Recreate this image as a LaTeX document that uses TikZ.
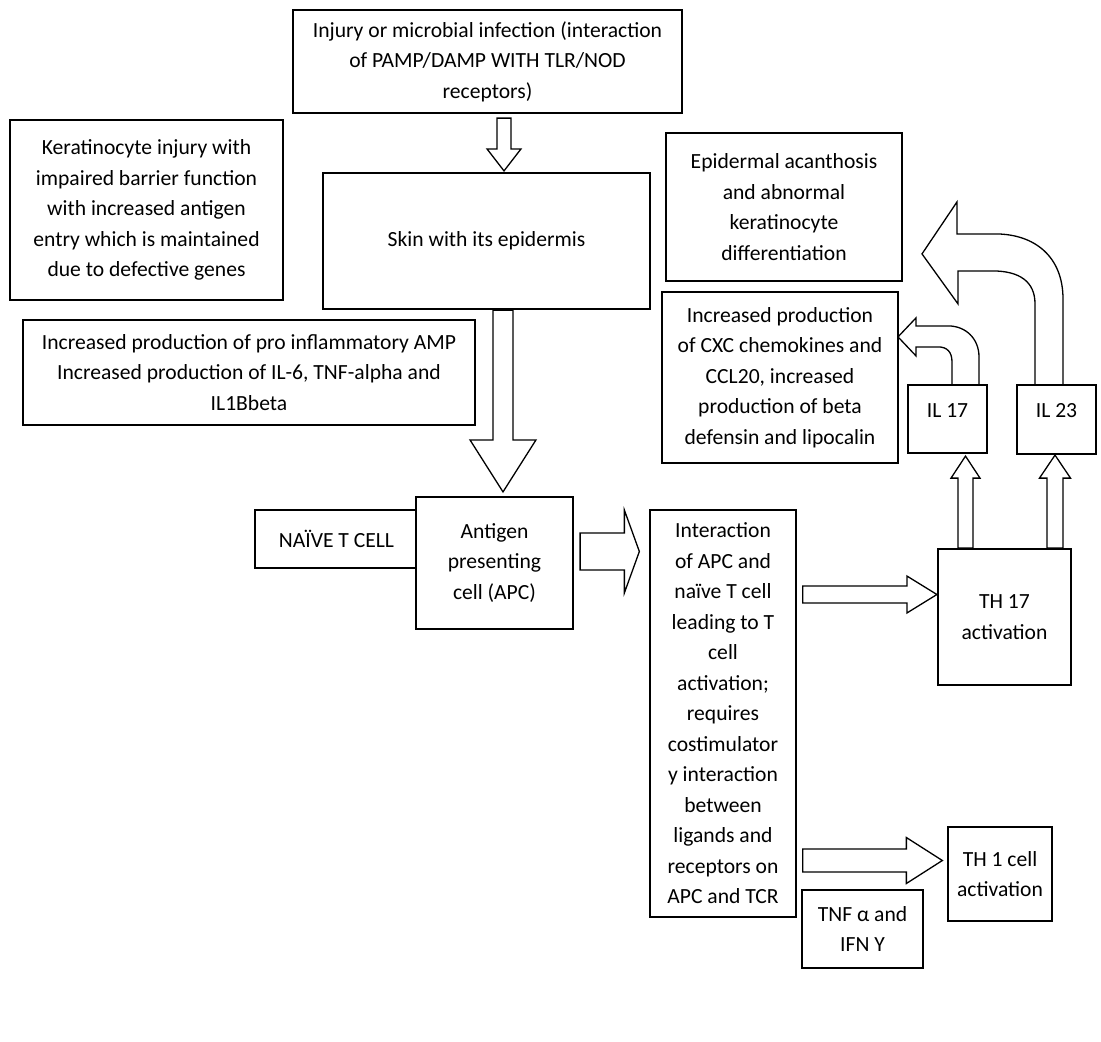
\documentclass[tikz,border=0pt]{standalone}
\usepackage{fontspec}
\setmainfont{Carlito}
\usetikzlibrary{calc}
\tikzset{
  bx/.style={draw, line width=2.2pt, align=center, inner sep=0pt, fill=white,
    font=\fontsize{21.6}{30.5}\selectfont},
  thinbox/.style={line width=1.3pt},
  blk/.style={draw, line width=1.3pt, line join=miter, fill=white},
}
% block arrows: #1 start, #2 end, #3 shaft half width, #4 head half width, #5 head length
\newcommand{\blkdown}[5]{\draw[blk] let \p1=#1, \p2=#2 in
  (\x1-#3,\y1) -- (\x1-#3,\y2+#5) -- (\x1-#4,\y2+#5) -- (\x1,\y2) -- (\x1+#4,\y2+#5) -- (\x1+#3,\y2+#5) -- (\x1+#3,\y1) -- cycle;}
\newcommand{\blkup}[5]{\draw[blk] let \p1=#1, \p2=#2 in
  (\x1-#3,\y1) -- (\x1-#3,\y2-#5) -- (\x1-#4,\y2-#5) -- (\x1,\y2) -- (\x1+#4,\y2-#5) -- (\x1+#3,\y2-#5) -- (\x1+#3,\y1) -- cycle;}
\newcommand{\blkright}[5]{\draw[blk] let \p1=#1, \p2=#2 in
  (\x1,\y1+#3) -- (\x2-#5,\y1+#3) -- (\x2-#5,\y1+#4) -- (\x2,\y1) -- (\x2-#5,\y1-#4) -- (\x2-#5,\y1-#3) -- (\x1,\y1-#3) -- cycle;}
\begin{document}
\begin{tikzpicture}[x=1pt,y=-1pt]
\fill[white] (0,0) rectangle (1101,1042);
\useasboundingbox (0,0) rectangle (1101,1042);

\node[bx, minimum width=389pt, minimum height=103pt] (top) at (487.5,61.5)
  {Injury or microbial infection (interaction\\ of PAMP/DAMP WITH TLR/NOD\\ receptors)};
\node[bx, minimum width=273pt, minimum height=180pt] (kera) at (146.5,210)
  {Keratinocyte injury with\\ impaired barrier function\\ with increased antigen\\ entry which is maintained\\ due to defective genes};
\node[bx, minimum width=327pt, minimum height=136pt] (skin) at (486.5,241)
  {Skin with its epidermis};
\node[bx, thinbox, minimum width=452pt, minimum height=105pt] (amp) at (249,372.5)
  {Increased production of pro inflammatory AMP\\ Increased production of IL-6, TNF-alpha and\\ IL1Bbeta};
\node[bx, thinbox, minimum width=236pt, minimum height=148pt] (epi) at (784,207)
  {Epidermal acanthosis\\ and abnormal\\ keratinocyte\\ differentiation};
\node[bx, minimum width=236pt, minimum height=171pt] (cxc) at (780,377.5)
  {Increased production\\ of CXC chemokines and\\ CCL20, increased\\ production of beta\\ defensin and lipocalin};
\node[bx, minimum width=79pt, minimum height=68pt, text height=14pt, text depth=18pt] (il17) at (947.5,419) {IL 17};
\node[bx, minimum width=79pt, minimum height=69pt, text height=14pt, text depth=18pt] (il23) at (1056.5,419.5) {IL 23};
\node[bx, minimum width=163pt, minimum height=58pt] (naive) at (336.5,539) {NAÏVE T CELL};
\node[bx, minimum width=157pt, minimum height=132pt] (apc) at (494.5,563)
  {Antigen\\ presenting\\ cell (APC)};
\node[bx, thinbox, minimum width=146pt, minimum height=407pt] (int) at (723,713.5)
  {Interaction\\ of APC and\\ naïve T cell\\ leading to T\\ cell\\ activation;\\ requires\\ costimulator\\ y interaction\\ between\\ ligands and\\ receptors on\\ APC and TCR};
\node[bx, minimum width=133pt, minimum height=136pt] (th17) at (1004.5,617)
  {TH 17\\ activation};
\node[bx, thinbox, minimum width=104pt, minimum height=94pt] (th1) at (1000,874)
  {TH 1 cell\\ activation};
\node[bx, minimum width=121pt, minimum height=78pt] (tnf) at (862.5,929)
  {TNF α and\\ IFN Υ};

% straight block arrows
\blkdown{($(top.south)+(16.5,4)$)}{($(skin.north)+(0,-1)$)}{7pt}{17pt}{22pt}
\blkdown{($(skin.south)+(16.5,0)$)}{($(apc.north)+(0,-4)$)}{10pt}{33pt}{52pt}
\blkright{($(apc.east)+(6,-11.5)$)}{($(int.west)+(-10,0)$)}{18.5pt}{41.5pt}{15pt}
\blkright{($(int.east)+(6,-119)$)}{(th17.west)}{8.5pt}{18.5pt}{30pt}
\blkright{($(int.east)+(6,147)$)}{($(th1.west)+(-5,0)$)}{11.5pt}{23pt}{36pt}
\blkup{($(th17.north)+(-39,0)$)}{($(il17.south)+(0,2)$)}{7.5pt}{14.5pt}{22pt}
\blkup{($(th17.north)+(50.5,0)$)}{(il23.south)}{8pt}{15.5pt}{23pt}

% curved block arrows
\draw[blk, shift={(il17.north)}]
  (31.5,0) -- (31.5,-27) .. controls (31.5,-45) and (18.5,-58) .. (0.5,-58)
  -- (-31.5,-58) -- (-31.5,-66) -- (-49.5,-47) -- (-31.5,-28) -- (-31.5,-37)
  -- (-9.5,-37) .. controls (-0.5,-37) and (4.5,-32) .. (4.5,-22) -- (4.5,0);
\draw[blk, shift={(il23.north)}]
  (6.5,0) -- (6.5,-85) .. controls (6.5,-127) and (-21.5,-150) .. (-61.5,-150)
  -- (-99.5,-150) -- (-99.5,-182) -- (-134.5,-130) -- (-98.5,-80) -- (-98.5,-113)
  -- (-64.5,-113) .. controls (-36.5,-113) and (-21.5,-102) .. (-21.5,-80) -- (-21.5,0);
\end{tikzpicture}
\end{document}
